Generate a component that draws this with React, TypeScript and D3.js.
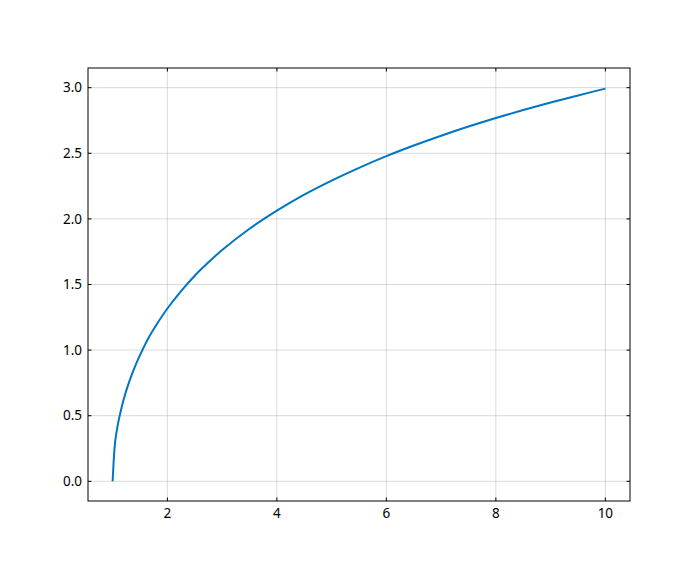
import * as d3 from 'd3';

const xValues = [1, 1.045, 1.09, 1.14, 1.2, 1.3, 1.4, 1.5, 1.65, 1.8, 2, 2.25, 2.5, 2.75, 3, 3.5, 4, 4.5, 5, 5.5, 6, 6.5, 7, 7.5, 8, 8.5, 9, 9.5, 10];
const yValues = [0, 0.298, 0.421, 0.52, 0.622, 0.756, 0.867, 0.962, 1.089, 1.193, 1.317, 1.45, 1.567, 1.669, 1.763, 1.925, 2.063, 2.185, 2.292, 2.389, 2.478, 2.559, 2.634, 2.704, 2.769, 2.83, 2.887, 2.941, 2.993];
const xTicks = [2, 4, 6, 8, 10];
const yTicks = [0, 0.5, 1, 1.5, 2, 2.5, 3];

const W = 700;
const H = 564;
const left = 88;
const right = 630;
const top = 68;
const bottom = 501;

const App = () => {
  const x = d3.scaleLinear().domain([0.55, 10.45]).range([left, right]);
  const y = d3.scaleLinear().domain([-0.15, 3.15]).range([bottom, top]);
  const line = d3
    .line<number>()
    .x((_, i) => x(xValues[i]))
    .y((d) => y(d))
    .curve(d3.curveCatmullRom.alpha(0.5));
  const tick = 3.5;

  return (
    <svg width={W} height={H} style={{ display: 'block', margin: '-8px' }} fontFamily="'Noto Sans', sans-serif" fontSize={13.5}>
      <rect width={W} height={H} fill="#fff" />
      {xTicks.map((t) => (
        <g key={'x' + t}>
          <line x1={x(t)} x2={x(t)} y1={top} y2={bottom} stroke="#b0b0b0" strokeOpacity={0.6} strokeWidth={0.8} />
          <line x1={x(t)} x2={x(t)} y1={bottom} y2={bottom - tick} stroke="#000" />
          <line x1={x(t)} x2={x(t)} y1={top} y2={top + tick} stroke="#000" />
          <text x={x(t)} y={bottom + 17} textAnchor="middle" fill="#000">{t}</text>
        </g>
      ))}
      {yTicks.map((t) => (
        <g key={'y' + t}>
          <line x1={left} x2={right} y1={y(t)} y2={y(t)} stroke="#b0b0b0" strokeOpacity={0.6} strokeWidth={0.8} />
          <line x1={left} x2={left + tick} y1={y(t)} y2={y(t)} stroke="#000" />
          <line x1={right} x2={right - tick} y1={y(t)} y2={y(t)} stroke="#000" />
          <text x={left - 6} y={y(t)} dy="0.35em" textAnchor="end" fill="#000">{t.toFixed(1)}</text>
        </g>
      ))}
      <path d={line(yValues) ?? ''} fill="none" stroke="#0075c4" strokeWidth={2} />
      <rect x={left} y={top} width={right - left} height={bottom - top} fill="none" stroke="#000" strokeWidth={1} />
    </svg>
  );
};

export default App;
